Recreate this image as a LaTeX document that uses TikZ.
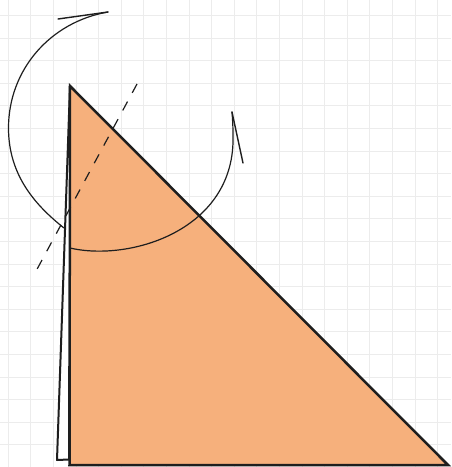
\documentclass[tikz,border=0pt]{standalone}
\definecolor{fillorange}{RGB}{246,176,124}
\definecolor{gridgray}{RGB}{236,236,236}
\definecolor{ink}{RGB}{30,30,30}
\tikzset{
  gridline/.style={draw=gridgray, line width=0.9pt},
  tri/.style={fill=fillorange, draw=ink, line width=2.5pt},
  sliver/.style={fill=white, draw=ink, line width=2pt, line join=round},
  rotarc/.style={draw=ink, line width=1.2pt, line cap=round},
  barb/.style={draw=ink, line width=1.4pt, line cap=round},
  foldline/.style={draw=ink, line width=1.2pt, dash pattern=on 10pt off 10pt}
}
\begin{document}
\begin{tikzpicture}[x=1pt,y=-1pt]
\useasboundingbox (0,0) rectangle (451,467);
\fill[white] (0,0) rectangle (451,467);
\foreach \k in {0,...,19} {
  \draw[gridline] ({8.3+22.6*\k},0) -- ({8.3+22.6*\k},467);
  \draw[gridline] (0,{15.5+22.6*\k}) -- (451,{15.5+22.6*\k});
}
\coordinate (A) at (70,86);
\coordinate (B) at (69.5,465);
\coordinate (C) at (448,465);
\coordinate (D) at (57,460);
\coordinate (E) at (69,459.5);
\coordinate (P) at (137,84);
\coordinate (Q) at (35,273);
\coordinate (T1) at (108,12);
\coordinate (T2) at (58,19);
\coordinate (L1) at (8.5,128);
\coordinate (L2) at (64,228);
\coordinate (S1) at (70,248);
\coordinate (S2) at (233,135);
\coordinate (R1) at (232,112);
\coordinate (R2) at (243,163);
% orange triangle
\filldraw[tri] (A) -- (B) -- (C) -- cycle;
% rotation curves
\draw[rotarc] (T1) .. controls (50,22) and (8.5,70) .. (L1)
  .. controls (8.5,175) and (35,205) .. (L2);
\draw[rotarc] (S1) .. controls (130,262) and (236,230) .. (S2)
  .. controls (233,125) and (232.5,118) .. (R1);
\draw[barb] (T1) -- (T2);
\draw[barb] (R1) -- (R2);
% folded sliver
\filldraw[sliver] (A) -- (D) -- (E) -- cycle;
% fold line
\draw[foldline] (P) -- (Q);
\end{tikzpicture}
\end{document}
